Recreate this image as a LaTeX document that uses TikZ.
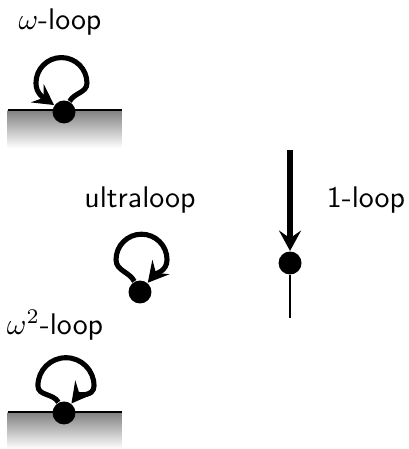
\documentclass[tikz,border=0pt]{standalone}
\usepackage{amsmath}
\usepackage{tikz}
\usetikzlibrary{arrows.meta, positioning}

\begin{document}
\begin{tikzpicture}[
  font=\sffamily,
  dot/.style={circle, fill=black, inner sep=0pt, minimum size=2.7mm},
  ground/.style={top color=black!50, bottom color=white, draw=none},
  arr/.style={-{Stealth[length=2.4mm, width=2.6mm, inset=0.9mm]}, line width=1.7pt},
  lbl/.style={inner sep=1pt}
]
\useasboundingbox (0,0) rectangle (4.8,5.282);

% omega-loop on the ground
\shade[ground] (0.09,3.54) rectangle (1.435,3.988);
\draw[line width=0.6pt] (0.09,3.988) -- (1.435,3.988);
\node[dot] (w) at (0.753,3.965) {};
\coordinate (wL) at (0.423,4.305);
\coordinate (wT) at (0.723,4.605);
\coordinate (wR) at (1.023,4.305);
\draw[arr] (w) to[out=62, in=-90] (wR) to[out=90, in=0] (wT)
               to[out=180, in=90] (wL) to[out=-90, in=145] (w);
\node[lbl] (wlab) at (0.706,5.024) {$\omega$-loop};

% ultraloop
\node[dot] (u) at (1.647,1.847) {};
\coordinate (uL) at (1.365,2.227);
\coordinate (uT) at (1.665,2.527);
\coordinate (uR) at (1.965,2.227);
\draw[arr] (u) to[out=118, in=-90] (uL) to[out=90, in=180] (uT)
               to[out=0, in=90] (uR) to[out=-90, in=50] (u);
\node[lbl] (ulab) at (1.647,2.929) {ultraloop};

% omega^2-loop on the ground
\shade[ground] (0.09,0) rectangle (1.435,0.435);
\draw[line width=0.6pt] (0.09,0.435) -- (1.435,0.435);
\node[dot] (w2) at (0.753,0.424) {};
\coordinate (w2L) at (0.446,0.744);
\coordinate (w2T) at (0.776,1.074);
\coordinate (w2R) at (1.106,0.744);
\draw[arr] (w2) to[out=118, in=-90] (w2L) to[out=90, in=180] (w2T)
                to[out=0, in=90] (w2R) to[out=-90, in=52] (w2);
\node[lbl] (w2lab) at (0.647,1.459) {$\omega^2$-loop};

% 1-loop
\coordinate (top) at (3.412,3.518);
\coordinate (bot) at (3.412,1.541);
\node[dot] (v) at (3.412,2.188) {};
\draw[arr, line width=1.8pt] (top) -- (v);
\draw[line width=0.55pt] (v) -- (bot);
\node[lbl] (vlab) at (4.306,2.929) {1-loop};
\end{tikzpicture}
\end{document}
